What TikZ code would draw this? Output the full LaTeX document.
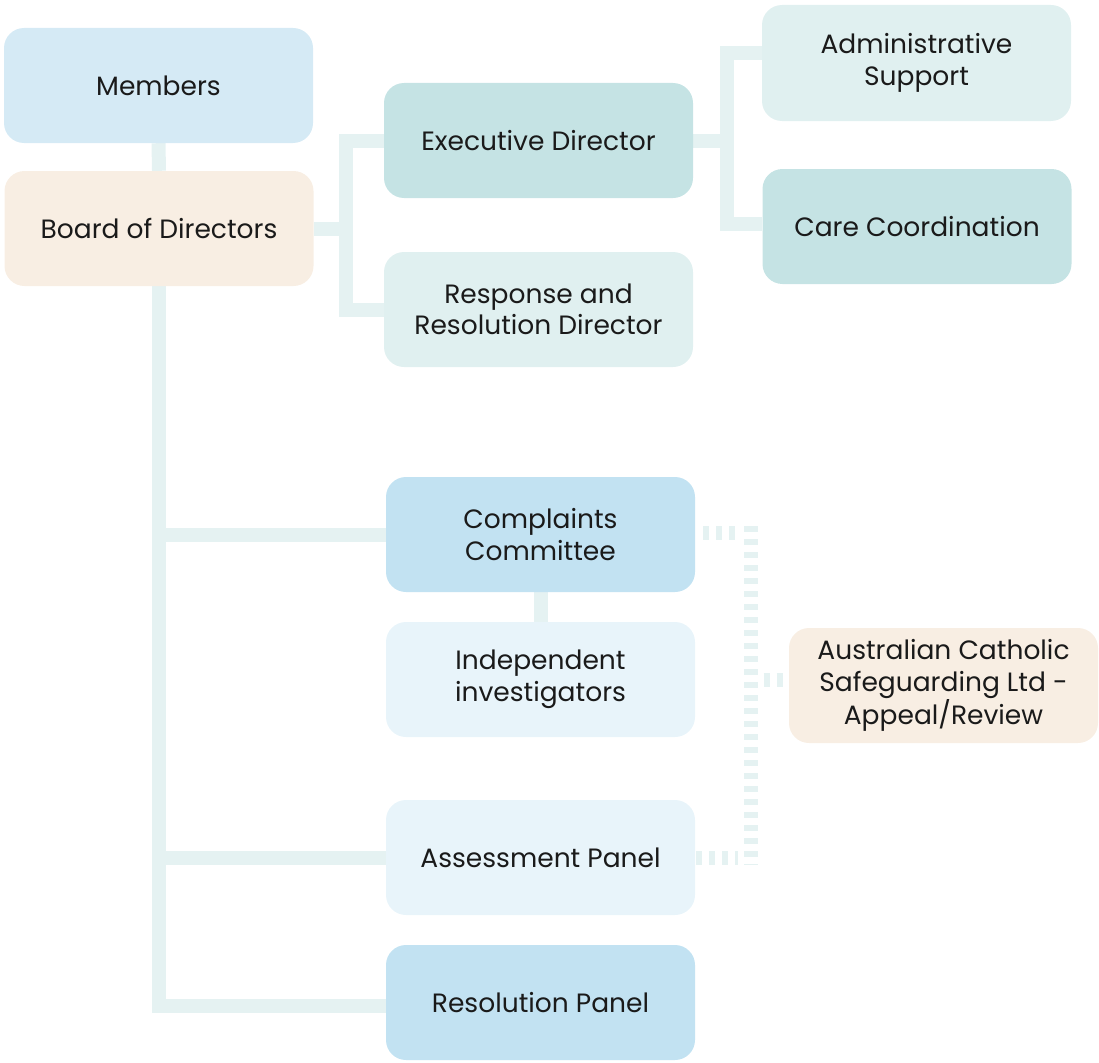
\documentclass[tikz,border=0pt]{standalone}
\usepackage{fontspec}
\setmainfont{Poppins}
\usetikzlibrary{backgrounds}
\definecolor{cMem}{HTML}{D5EAF5}
\definecolor{cBeige}{HTML}{F8EEE3}
\definecolor{cTeal}{HTML}{C5E3E4}
\definecolor{cTealL}{HTML}{E0F0F0}
\definecolor{cBlue}{HTML}{C2E2F2}
\definecolor{cBlueL}{HTML}{E8F4FA}
\definecolor{cConn}{HTML}{E5F2F2}
\definecolor{cText}{HTML}{1A1A1A}
\tikzset{
  box/.style={rounded corners=20pt, draw=none, inner sep=0pt, minimum width=309pt,
    minimum height=115pt, align=center, text=cText,
    font=\fontsize{26.5}{31.5}\selectfont},
  conn/.style={draw=cConn, line width=14pt, line join=miter},
  dconn/.style={draw=cConn, line width=14pt, dash pattern=on 6pt off 7pt},
}
\begin{document}
\begin{tikzpicture}[x=1pt,y=-1pt]
\useasboundingbox (0,0) rectangle (1099,1062);
\node[box, fill=cMem] (mem) at (158.5,85.5) {Members};
\node[box, fill=cBeige] (board) at (159,228.5) {Board of Directors};
\node[box, fill=cTeal] (exec) at (538.5,140.5) {Executive Director};
\node[box, fill=cTealL] (resp) at (538.5,309.5) {Response and\\Resolution Director};
\node[box, fill=cTealL, minimum height=116pt] (admin) at (916.5,63) {Administrative\\Support};
\node[box, fill=cTeal] (care) at (917,226.5) {Care Coordination};
\node[box, fill=cBlue] (comp) at (540.5,534.5) {Complaints\\Committee};
\node[box, fill=cBlueL] (indep) at (540.5,679.5) {Independent\\investigators};
\node[box, fill=cBlueL] (assess) at (540.5,857.5) {Assessment Panel};
\node[box, fill=cBlue] (resol) at (540.5,1002.5) {Resolution Panel};
\node[box, fill=cBeige] (acsl) at (943.5,685.5) {Australian Catholic\\Safeguarding Ltd -\\Appeal/Review};
\coordinate (j1) at (346,228.5);
\coordinate (j2) at (727,142);
\coordinate (dv) at (750.5,680);
\begin{scope}[on background layer]
\draw[conn] (mem.south) -- (board.north);
\draw[conn] (board.south) |- ([yshift=-3pt]resol.west);
\draw[conn] (board.south |- comp.west) -- (comp.west);
\draw[conn] (board.south |- assess.west) -- (assess.west);
\draw[conn] (board.east) -- (j1);
\draw[conn] (exec.west) -| (j1) |- (resp.west);
\draw[conn] (exec.east) -- (exec.east -| j2);
\draw[conn] ([yshift=10pt]admin.west) -| (j2) |- ([yshift=3pt]care.west);
\draw[conn] (comp.south) -- (indep.north);
\draw[dconn] ([xshift=8pt,yshift=1.5pt]comp.east) -- ([xshift=43pt,yshift=1.5pt]comp.east);
\draw[dconn] ([yshift=8.5pt]dv |- comp.east) -- ([yshift=-7.5pt]dv |- assess.east);
\draw[dconn] ([xshift=1pt]assess.east) -- ([xshift=43pt]assess.east);
\draw[dconn] ([xshift=13pt]dv) -- ([xshift=-6pt]acsl.west |- dv);
\end{scope}
\end{tikzpicture}
\end{document}
